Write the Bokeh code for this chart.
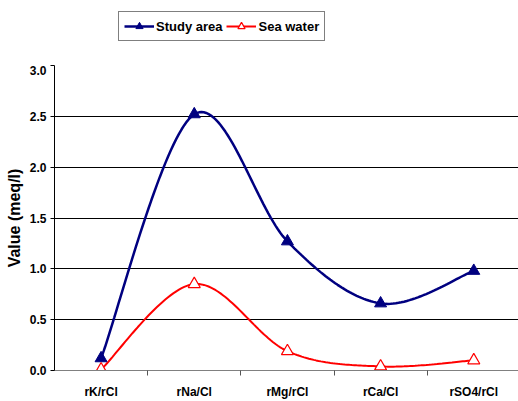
import numpy as np
from bokeh.plotting import figure
from bokeh.layouts import column
from bokeh.models import Range1d, FixedTicker, Legend, LegendItem
from bokeh.embed import file_html
from bokeh.resources import INLINE

# Ionic ratios
categories = ["rK/rCl", "rNa/Cl", "rMg/rCl", "rCa/Cl", "rSO4/rCl"]
study_area = [0.12, 2.52, 1.27, 0.66, 0.98]
sea_water = [0.01, 0.85, 0.19, 0.04, 0.10]

FONT = "Liberation Sans"
NAVY = "#000080"
RED = "#FF0000"


def smooth(xs, ys, n=40, t=1.0 / 6.0):
    """Catmull-Rom style cubic Bezier through the points."""
    xs = np.asarray(xs, float)
    ys = np.asarray(ys, float)
    px, py = [], []
    m = len(xs)
    for i in range(m - 1):
        x0, y0 = (xs[i - 1], ys[i - 1]) if i > 0 else (xs[i], ys[i])
        x1, y1 = xs[i], ys[i]
        x2, y2 = xs[i + 1], ys[i + 1]
        x3, y3 = (xs[i + 2], ys[i + 2]) if i + 2 < m else (x2, y2)
        c1x, c1y = x1 + (x2 - x0) * t, y1 + (y2 - y0) * t
        c2x, c2y = x2 - (x3 - x1) * t, y2 - (y3 - y1) * t
        s = np.linspace(0, 1, n)
        bx = (1 - s) ** 3 * x1 + 3 * (1 - s) ** 2 * s * c1x + 3 * (1 - s) * s ** 2 * c2x + s ** 3 * x2
        by = (1 - s) ** 3 * y1 + 3 * (1 - s) ** 2 * s * c1y + 3 * (1 - s) * s ** 2 * c2y + s ** 3 * y2
        px.extend(bx if i == 0 else bx[1:])
        py.extend(by if i == 0 else by[1:])
    return px, py


xpos = list(range(len(categories)))

# ---- main chart ----
p = figure(width=518, height=336, output_backend="svg", toolbar_location=None,
           x_range=Range1d(-0.5, 4.48), y_range=Range1d(0, 3.0),
           min_border_left=54, min_border_right=0, min_border_top=0,
           min_border_bottom=31)
p.outline_line_color = None

p.yaxis.ticker = FixedTicker(ticks=[0, 0.5, 1.0, 1.5, 2.0, 2.5, 3.0])
p.yaxis.major_label_overrides = {0: "0.0", 0.5: "0.5", 1.0: "1.0", 1.5: "1.5",
                                 2.0: "2.0", 2.5: "2.5", 3.0: "3.0"}
p.yaxis.major_label_text_font = FONT
p.yaxis.major_label_text_font_style = "bold"
p.yaxis.major_label_text_font_size = "12px"
p.yaxis.major_label_text_color = "black"
p.yaxis.major_label_standoff = 4
p.yaxis.axis_line_color = "black"
p.yaxis.major_tick_line_color = "black"
p.yaxis.major_tick_out = 4
p.yaxis.major_tick_in = 0
p.yaxis.minor_tick_line_color = None
p.yaxis.axis_label = "Value (meq/l)"
p.yaxis.axis_label_text_font = FONT
p.yaxis.axis_label_text_font_style = "bold"
p.yaxis.axis_label_text_font_size = "16px"
p.yaxis.axis_label_text_color = "black"
p.yaxis.axis_label_standoff = 4

# category labels at the centres, tick marks between categories
p.xaxis.ticker = FixedTicker(ticks=xpos, minor_ticks=[0.5, 1.5, 2.5, 3.5])
p.xaxis.major_label_overrides = {i: c for i, c in enumerate(categories)}
p.xaxis.major_label_text_font = FONT
p.xaxis.major_label_text_font_style = "bold"
p.xaxis.major_label_text_font_size = "12px"
p.xaxis.major_label_text_color = "black"
p.xaxis.major_label_standoff = 8
p.xaxis.major_tick_line_color = None
p.xaxis.minor_tick_line_color = "#555555"
p.xaxis.minor_tick_out = 5
p.xaxis.minor_tick_in = 0
p.xaxis.axis_line_color = "#808080"

p.xgrid.grid_line_color = None
p.ygrid.grid_line_color = "black"
p.ygrid.grid_line_width = 1

sx, sy = smooth(xpos, study_area)
wx, wy = smooth(xpos, sea_water)

p.line(sx, sy, line_color=NAVY, line_width=2.5)
p.line(wx, wy, line_color=RED, line_width=2)
p.scatter(xpos, study_area, marker="triangle", size=12,
          fill_color=NAVY, line_color=NAVY)
p.scatter(xpos, sea_water, marker="triangle", size=12,
          fill_color="white", line_color=RED, line_width=1.2)

# ---- legend strip above the chart ----
lg = figure(width=518, height=65, output_backend="svg", toolbar_location=None,
            x_range=Range1d(0, 1), y_range=Range1d(0, 1),
            x_axis_location=None, y_axis_location=None, min_border=0)
lg.grid.grid_line_color = None
lg.outline_line_color = None

# key glyphs sit outside the visible range; only their legend swatches show
k1 = lg.line([5, 6], [5, 6], line_color=NAVY, line_width=2.5)
k1m = lg.scatter([5], [5], marker="triangle", size=11, fill_color=NAVY, line_color=NAVY)
k2 = lg.line([5, 6], [5, 6], line_color=RED, line_width=2)
k2m = lg.scatter([5], [5], marker="triangle", size=11, fill_color="white",
                 line_color=RED, line_width=1.2)

legend = Legend(items=[LegendItem(label="Study area", renderers=[k1, k1m]),
                       LegendItem(label="Sea water", renderers=[k2, k2m])],
                location=(64, 24), orientation="horizontal")
legend.label_text_font = FONT
legend.label_text_font_style = "bold"
legend.label_text_font_size = "13px"
legend.label_text_color = "black"
legend.border_line_color = "black"
legend.border_line_width = 1
legend.padding = 5
legend.spacing = 4
legend.margin = 0
legend.glyph_width = 30
legend.glyph_height = 18
legend.label_standoff = 2
lg.add_layout(legend)

open("out.html", "w").write(file_html(column(lg, p, spacing=0), INLINE))
